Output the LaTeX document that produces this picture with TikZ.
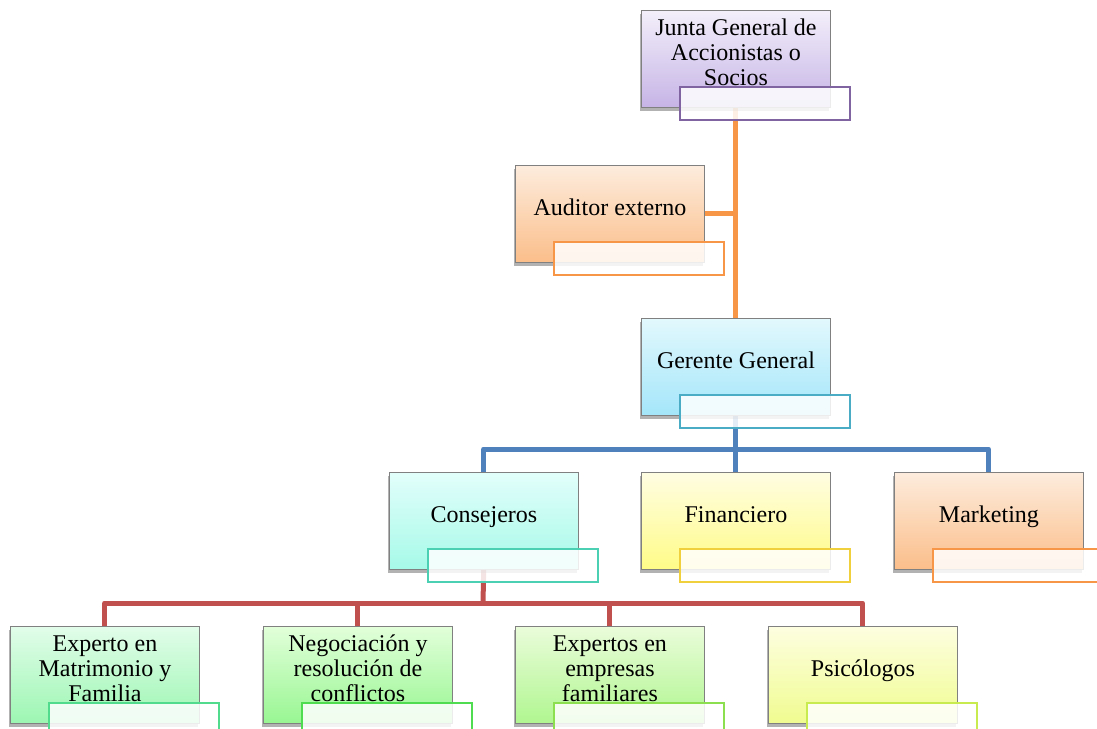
\documentclass[tikz,border=0pt]{standalone}
\usepackage{fontspec}
\setmainfont{Liberation Serif}
\usetikzlibrary{shadows,positioning}

\definecolor{lnOrange}{HTML}{F79646}
\definecolor{lnBlue}{HTML}{4F81BD}
\definecolor{lnRed}{HTML}{C0504D}

% box gradients (top / bottom) and tag outlines
\definecolor{juntaT}{HTML}{F3EFFA}\definecolor{juntaB}{HTML}{C6B4E6}\definecolor{juntaL}{HTML}{8064A2}
\definecolor{orT}{HTML}{FDECDD}\definecolor{orB}{HTML}{FBBE8A}\definecolor{orL}{HTML}{F79646}
\definecolor{gerT}{HTML}{E2F8FD}\definecolor{gerB}{HTML}{A4E6FA}\definecolor{gerL}{HTML}{4BACC6}
\definecolor{conT}{HTML}{E2FEFB}\definecolor{conB}{HTML}{A6FAE8}\definecolor{conL}{HTML}{4BD0B4}
\definecolor{finT}{HTML}{FFFDE2}\definecolor{finB}{HTML}{FFFC88}\definecolor{finL}{HTML}{F0D03C}
\definecolor{expT}{HTML}{E2FDEA}\definecolor{expB}{HTML}{9CF6B2}\definecolor{expL}{HTML}{50DC8C}
\definecolor{negT}{HTML}{E2FFDA}\definecolor{negB}{HTML}{98F692}\definecolor{negL}{HTML}{50DC50}
\definecolor{empT}{HTML}{EAFCDA}\definecolor{empB}{HTML}{B0F690}\definecolor{empL}{HTML}{8CE050}
\definecolor{psiT}{HTML}{FDFEE0}\definecolor{psiB}{HTML}{F0FC90}\definecolor{psiL}{HTML}{C8EC50}

\tikzset{
  unitbox/.style={draw=black!50, line width=0.9pt, rectangle,
    minimum width=189pt, minimum height=97pt, inner sep=0pt,
    anchor=north west,
    drop shadow={shadow xshift=-1.5pt, shadow yshift=-3.5pt, opacity=0.3, fill=black}},
  tagbox/.style={rectangle, line width=2pt, fill=white, fill opacity=0.85,
    minimum width=170pt, minimum height=33pt, inner sep=0pt, anchor=north west},
  boxtext/.style={font=\fontsize{24}{25}\selectfont, align=center, text=black,
    inner sep=0pt, execute at begin node=\strut, execute at end node=\strut},
  link/.style={line width=5pt, line join=round}
}

% one chart box: name, top-left corner, text, colour prefix
\newcommand{\chartunit}[4]{%
  \node[unitbox, top color=#4T, bottom color=#4B] (#1) at (#2) {};
  \node[boxtext] (#1-t) at ([yshift=3pt]#1.center) {#3};
  \node[tagbox, draw=#4L] (#1-tag) at ([xshift=38pt,yshift=22pt]#1.south west) {};
}

\begin{document}
\begin{tikzpicture}[x=1pt, y=-1pt]
\useasboundingbox (0,0) rectangle (1097,728);
\clip (0,0) rectangle (1097,728);

% positions of boxes and bus lines
\coordinate (pJunta) at (641,10);
\coordinate (pAud) at (515,165);
\coordinate (pGer) at (641,318);
\coordinate (pCon) at (389,472);
\coordinate (pFin) at (641,472);
\coordinate (pMkt) at (894,472);
\coordinate (pExp) at (10,626);
\coordinate (pNeg) at (263,626);
\coordinate (pEmp) at (515,626);
\coordinate (pPsi) at (768,626);
\coordinate (busA) at (736,449);
\coordinate (busB) at (483,603);

% placeholders so connectors can be drawn first
\begin{scope}[every node/.style={rectangle, minimum width=189pt, minimum height=97pt, inner sep=0pt, anchor=north west}]
  \node (junta) at (pJunta) {};
  \node (aud) at (pAud) {};
  \node (ger) at (pGer) {};
  \node (con) at (pCon) {};
  \node (fin) at (pFin) {};
  \node (mkt) at (pMkt) {};
  \node (exp) at (pExp) {};
  \node (neg) at (pNeg) {};
  \node (emp) at (pEmp) {};
  \node (psi) at (pPsi) {};
\end{scope}

% connectors
\draw[link, lnOrange] (junta.south) -- (ger.north);
\draw[link, lnOrange] (aud.east) -- (aud.east -| junta.south);
\draw[link, lnBlue] (ger.south) -- (fin.north);
\draw[link, lnBlue] (con.north) |- (busA) -| (mkt.north);
\draw[link, lnRed] (con.south) -- (busB);
\draw[link, lnRed] (exp.north) |- (busB) -| (psi.north);
\draw[link, lnRed] (neg.north) -- (neg.north |- busB);
\draw[link, lnRed] (emp.north) -- (emp.north |- busB);

% boxes
\chartunit{juntaBox}{pJunta}{Junta General de\\Accionistas o\\Socios}{junta}
\chartunit{audBox}{pAud}{Auditor externo}{or}
\chartunit{gerBox}{pGer}{Gerente General}{ger}
\chartunit{conBox}{pCon}{Consejeros}{con}
\chartunit{finBox}{pFin}{Financiero}{fin}
\chartunit{mktBox}{pMkt}{Marketing}{or}
\chartunit{expBox}{pExp}{Experto en\\Matrimonio y\\Familia}{exp}
\chartunit{negBox}{pNeg}{Negociación y\\resolución de\\conflictos}{neg}
\chartunit{empBox}{pEmp}{Expertos en\\empresas\\familiares}{emp}
\chartunit{psiBox}{pPsi}{Psicólogos}{psi}
\end{tikzpicture}
\end{document}
